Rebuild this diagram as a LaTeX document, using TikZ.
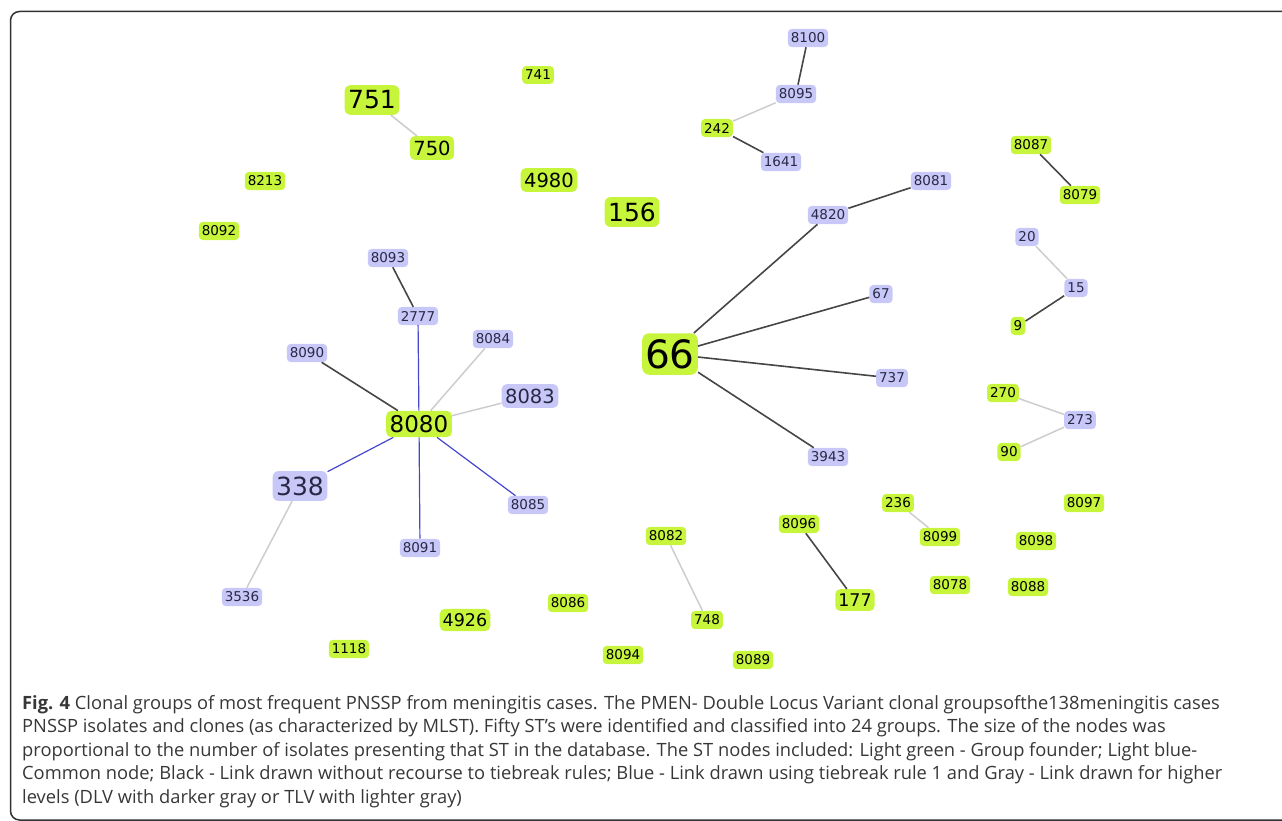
\documentclass[tikz,border=0pt]{standalone}
\usepackage{fontspec}
\setmainfont{Open Sans}
\newfontfamily\nodefont{DejaVu Sans}
\definecolor{fgreen}{RGB}{198,245,60}
\definecolor{fblue}{RGB}{200,200,248}
\definecolor{tblue}{RGB}{40,40,70}
\definecolor{ldark}{RGB}{70,70,70}
\definecolor{llight}{RGB}{205,205,205}
\definecolor{lblue}{RGB}{70,70,205}
\definecolor{capcol}{RGB}{55,55,55}
\tikzset{
  st/.style={rounded corners=4pt, inner xsep=3pt, inner ysep=4pt, font=\nodefont\fontsize{13.5}{13.5}\selectfont},
  grn/.style={st, fill=fgreen, text=black},
  blu/.style={st, fill=fblue, text=tblue},
  sz17/.style={font=\nodefont\fontsize{17.5}{17.5}\selectfont, inner xsep=3pt, inner ysep=4.5pt, rounded corners=5pt},
  sz20/.style={font=\nodefont\fontsize{19.5}{19.5}\selectfont, inner xsep=3.5pt, inner ysep=4.5pt, rounded corners=5pt},
  sz23/.style={font=\nodefont\fontsize{23}{23}\selectfont, inner xsep=3.5pt, inner ysep=4.5pt, rounded corners=5pt},
  sz26/.style={font=\nodefont\fontsize{25}{25}\selectfont, inner xsep=3.5pt, inner ysep=5.5pt, rounded corners=6pt},
  sz39/.style={font=\nodefont\fontsize{39}{39}\selectfont, inner xsep=3pt, inner ysep=6pt, rounded corners=7pt},
  dk/.style={draw=ldark, line width=1.6pt},
  lt/.style={draw=llight, line width=1.5pt},
  bl/.style={draw=lblue, line width=1.2pt},
  capline/.style={anchor=base west, inner sep=0pt, text=capcol, font=\fontsize{18.3}{18.3}\selectfont},
}
\begin{document}
\begin{tikzpicture}[x=1pt,y=-1pt]
\useasboundingbox (0,0) rectangle (1282,821);
\begin{scope}
\clip (0,0) rectangle (1282,821);
\draw[line width=1.5pt, draw=black!80, rounded corners=9pt] (10.5,11.5) rectangle (1300,820);
\end{scope}
% green nodes
\node[grn] (n741) at (538,75) {741};
\node[grn,sz26] (n751) at (372,100) {751};
\node[grn,sz20] (n750) at (432,148) {750};
\node[grn] (n8213) at (265,181) {8213};
\node[grn] (n8092) at (219,231) {8092};
\node[grn,sz20] (n4980) at (549,180) {4980};
\node[grn,sz26] (n156) at (632,212) {156};
\node[grn] (n242) at (717,128) {242};
\node[grn] (n8087) at (1031,145) {8087};
\node[grn] (n8079) at (1080,195) {8079};
\node[grn] (n9) at (1018,326) {9};
\node[grn,sz39] (n66) at (670,354) {66};
\node[grn,sz23] (n8080) at (419,424) {8080};
\node[grn] (n270) at (1003,393) {270};
\node[grn] (n90) at (1009,452) {90};
\node[grn] (n236) at (898,503) {236};
\node[grn] (n8099) at (940,537) {8099};
\node[grn] (n8097) at (1084,503) {8097};
\node[grn] (n8098) at (1036,541) {8098};
\node[grn] (n8078) at (950,585) {8078};
\node[grn] (n8088) at (1028,587) {8088};
\node[grn] (n8082) at (666,536) {8082};
\node[grn] (n8096) at (799,524) {8096};
\node[grn,sz17] (n177) at (855,600) {177};
\node[grn] (n748) at (707,620) {748};
\node[grn,sz17] (n4926) at (465,620) {4926};
\node[grn] (n8086) at (568,603) {8086};
\node[grn] (n1118) at (349,649) {1118};
\node[grn] (n8094) at (623,655) {8094};
\node[grn] (n8089) at (753,660) {8089};
% blue nodes
\node[blu] (n8100) at (808,38) {8100};
\node[blu] (n8095) at (796,94) {8095};
\node[blu] (n1641) at (781,162) {1641};
\node[blu] (n8081) at (931,181) {8081};
\node[blu] (n4820) at (828,215) {4820};
\node[blu] (n67) at (881,294) {67};
\node[blu] (n737) at (892,378) {737};
\node[blu] (n3943) at (828,457) {3943};
\node[blu] (n20) at (1027,237) {20};
\node[blu] (n15) at (1076,288) {15};
\node[blu] (n273) at (1080,420) {273};
\node[blu] (n8093) at (388,258) {8093};
\node[blu] (n2777) at (418,316) {2777};
\node[blu] (n8090) at (307,353) {8090};
\node[blu] (n8084) at (493,339) {8084};
\node[blu,sz20] (n8083) at (530,396) {8083};
\node[blu,sz26] (n338) at (300,486) {338};
\node[blu] (n8085) at (528,505) {8085};
\node[blu] (n8091) at (420,548) {8091};
\node[blu] (n3536) at (242,597) {3536};
% edges
\draw[lt] (n751) -- (n750);
\draw[dk] (n8100) -- (n8095);
\draw[lt] (n8095) -- (n242);
\draw[dk] (n242) -- (n1641);
\draw[dk] (n4820) -- (n8081);
\draw[dk] (n66) -- (n4820);
\draw[dk] (n66) -- (n67);
\draw[dk] (n66) -- (n737);
\draw[dk] (n66) -- (n3943);
\draw[dk] (n8087) -- (n8079);
\draw[lt] (n20) -- (n15);
\draw[dk] (n15) -- (n9);
\draw[lt] (n270) -- (n273);
\draw[lt] (n273) -- (n90);
\draw[lt] (n236) -- (n8099);
\draw[lt] (n8082) -- (n748);
\draw[dk] (n8096) -- (n177);
\draw[dk] (n8093) -- (n2777);
\draw[bl] (n2777) -- (n8080);
\draw[dk] (n8090) -- (n8080);
\draw[lt] (n8084) -- (n8080);
\draw[lt] (n8083) -- (n8080);
\draw[bl] (n338) -- (n8080);
\draw[bl] (n8085) -- (n8080);
\draw[bl] (n8091) -- (n8080);
\draw[lt] (n338) -- (n3536);
% caption
\node[capline] (c1) at (22,709) {\textbf{Fig. 4} Clonal groups of most frequent PNSSP from meningitis cases. The PMEN- Double Locus Variant clonal groupsofthe138meningitis cases};
\node[capline] (c2) at (22,732.5) {PNSSP isolates and clones (as characterized by MLST). Fifty ST’s were identified and classified into 24 groups. The size of the nodes was};
\node[capline] (c3) at (22,756) {proportional to the number of isolates presenting that ST in the database. The ST nodes included: Light green - Group founder; Light blue-};
\node[capline] (c4) at (22,779.5) {Common node; Black - Link drawn without recourse to tiebreak rules; Blue - Link drawn using tiebreak rule 1 and Gray - Link drawn for higher};
\node[capline] (c5) at (22,803) {levels (DLV with darker gray or TLV with lighter gray)};
\end{tikzpicture}
\end{document}
